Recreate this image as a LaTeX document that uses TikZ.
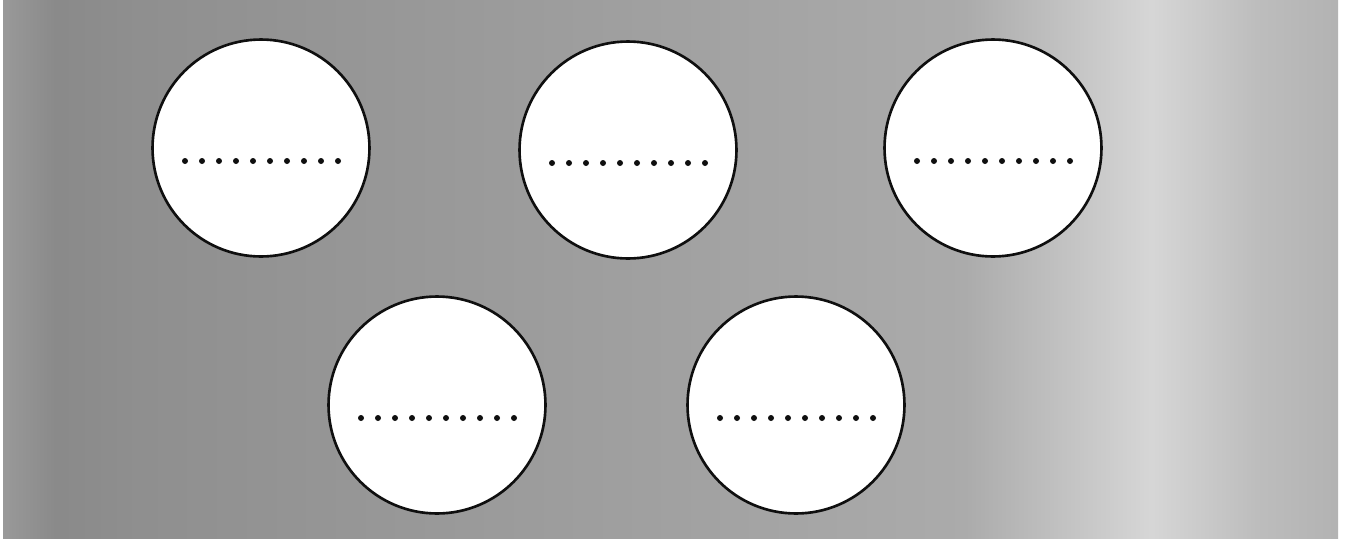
\documentclass[tikz,border=0pt]{standalone}
\usepackage{tikz}
\usetikzlibrary{positioning,calc}
\definecolor{WsInk}{RGB}{15,15,15}
% the path is mapped onto 25bp--75bp of the shading
\pgfdeclarehorizontalshading{wsboardshade}{100bp}{%
  rgb(0bp)=(0.53,0.53,0.53);
  rgb(25bp)=(0.60,0.60,0.60);
  rgb(27bp)=(0.54,0.54,0.54);
  rgb(30bp)=(0.56,0.56,0.56);
  rgb(47bp)=(0.62,0.62,0.62);
  rgb(61bp)=(0.67,0.67,0.67);
  rgb(68bp)=(0.84,0.84,0.84);
  rgb(72bp)=(0.74,0.74,0.74);
  rgb(75bp)=(0.70,0.70,0.70);
  rgb(100bp)=(0.70,0.70,0.70)}
\tikzset{
  ws/board/.style={
    shading=wsboardshade,
    draw=none
  },
  ws/disc/.style={
    circle,
    draw=WsInk,
    line width=1.5pt,
    fill=white,
    minimum size=4.34cm,
    inner sep=0pt
  },
  ws/dot/.style={fill=WsInk}
}

\begin{document}
\begin{tikzpicture}[x=0.02cm,y=-0.02cm]
  \useasboundingbox (0,0) rectangle (1350,542);
  \shade[ws/board] (3,0) rectangle (1338,538);
  \node[ws/disc] (c1) at (261,148) {};
  \node[ws/disc] (c2) at (628,150) {};
  \node[ws/disc] (c3) at (993,148) {};
  \node[ws/disc] (c4) at (437,405) {};
  \node[ws/disc] (c5) at (796,405) {};
  \foreach \c in {c1,c2,c3,c4,c5}{
    \foreach \i in {0,...,9}{
      \fill[ws/dot] ($(\c)+(-76+\i*17,13)$) circle (3);
    }
  }
\end{tikzpicture}
\end{document}
